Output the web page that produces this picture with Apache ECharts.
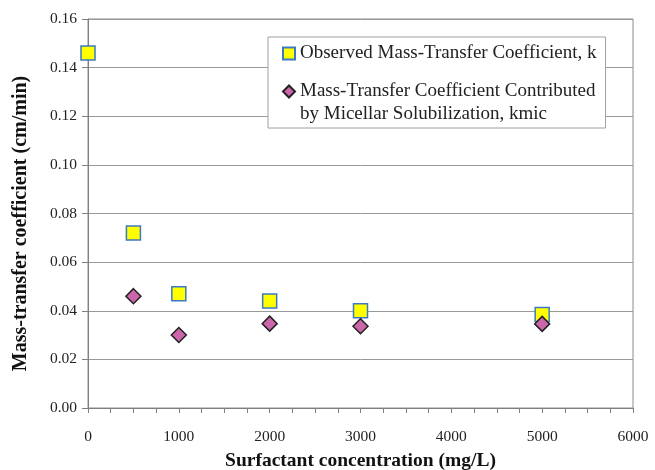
<!DOCTYPE html>
<html>
<head>
<meta charset="utf-8">
<script src="https://cdn.jsdelivr.net/npm/echarts@6/dist/echarts.min.js"></script>
<style>html,body{margin:0;padding:0;background:#fff}#c{width:655px;height:470px}</style>
</head>
<body>
<div id="c"></div>
<script>
const concentrations = [0, 500, 1000, 2000, 3000, 5000];
const observedK = [0.146, 0.072, 0.047, 0.044, 0.040, 0.0385];
const kmicConc = [500, 1000, 2000, 3000, 5000];
const kmicValues = [0.046, 0.030, 0.0347, 0.0336, 0.0346];
const seriesNames = ['Observed Mass-Transfer Coefficient, k', 'Mass-Transfer Coefficient Contributed\nby Micellar Solubilization, kmic'];
const xTitle = 'Surfactant concentration (mg/L)';
const yTitle = 'Mass-transfer coefficient (cm/min)';

const FONT = "'Liberation Serif', 'Times New Roman', serif";
const chart = echarts.init(document.getElementById('c'));
chart.setOption({
  animation: false,
  backgroundColor: '#fff',
  textStyle: { fontFamily: FONT },
  grid: { left: 88, right: 22, top: 19, bottom: 62, show: true, borderColor: '#8c8c8c', borderWidth: 1,
          containLabel: false, outerBoundsMode: 'none' },
  legend: {
    orient: 'vertical', left: 268, top: 37,
    padding: [5, 9, 2, 14], itemGap: -8, itemWidth: 12, itemHeight: 12,
    backgroundColor: '#fff', borderColor: '#a0a0a0', borderWidth: 1,
    textStyle: { fontFamily: FONT, fontSize: 19, color: '#222', lineHeight: 23 },
    formatter: name => (name === seriesNames[1] ? '\n' + name : name),
    data: [seriesNames[0], seriesNames[1]]
  },
  xAxis: {
    type: 'value', min: 0, max: 6000, interval: 1000,
    name: xTitle, nameLocation: 'middle', nameGap: 43,
    nameTextStyle: { fontFamily: FONT, fontSize: 19.5, fontWeight: 'bold', color: '#111' },
    axisLine: { show: true, lineStyle: { color: '#808080', width: 1 } },
    axisTick: { show: true, length: 5, inside: false, lineStyle: { color: '#808080' } },
    minorTick: { show: true, splitNumber: 4, length: 5, lineStyle: { color: '#808080' } },
    axisLabel: { fontFamily: FONT, fontSize: 15.5, color: '#222', margin: 21, formatter: v => String(v) },
    splitLine: { show: false }
  },
  yAxis: {
    type: 'value', min: 0, max: 0.16, interval: 0.02,
    name: yTitle, nameLocation: 'middle', nameGap: 57,
    nameTextStyle: { fontFamily: FONT, fontSize: 20, fontWeight: 'bold', color: '#111', padding: [0, 20, 0, 0] },
    axisLine: { show: true, lineStyle: { color: '#808080', width: 1 } },
    axisTick: { show: true, length: 6, inside: false, lineStyle: { color: '#808080' } },
    axisLabel: { fontFamily: FONT, fontSize: 15.5, color: '#222', margin: 11, formatter: v => v.toFixed(2) },
    splitLine: { show: true, lineStyle: { color: '#999', width: 1 } }
  },
  series: [
    {
      name: seriesNames[0], type: 'scatter', clip: false, z: 3,
      symbol: 'rect', symbolSize: 14,
      itemStyle: { color: '#ffff00', borderColor: '#3d79c0', borderWidth: 1.5, opacity: 1 },
      data: concentrations.map((c, i) => [c, observedK[i]])
    },
    {
      name: seriesNames[1], type: 'scatter', clip: false, z: 4,
      symbol: 'diamond', symbolSize: 15,
      itemStyle: { color: '#cc66aa', borderColor: '#222', borderWidth: 1.5, opacity: 1 },
      data: kmicConc.map((c, i) => [c, kmicValues[i]])
    }
  ]
});
</script>
</body>
</html>
